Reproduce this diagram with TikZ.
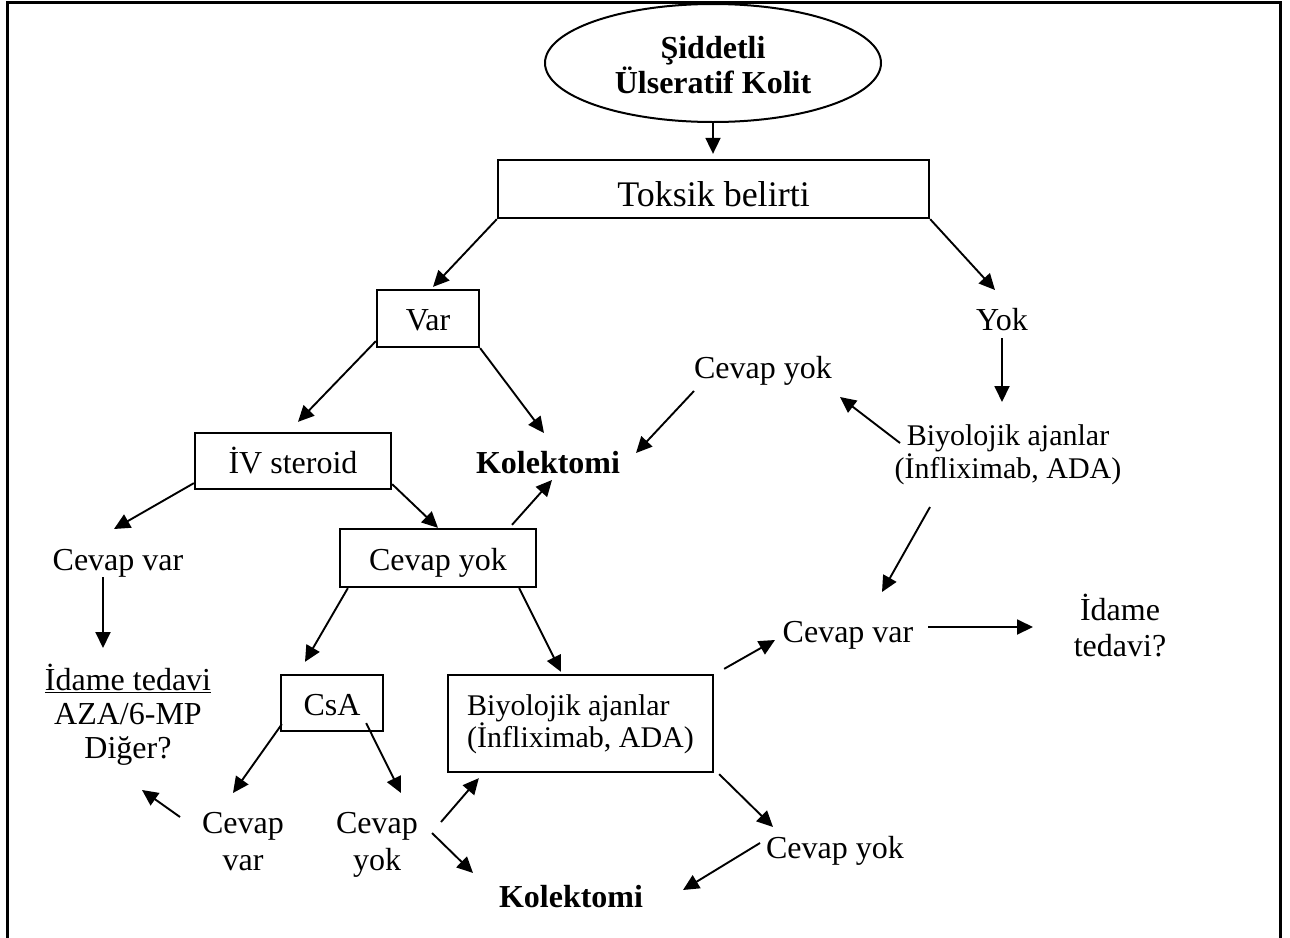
\documentclass[tikz,border=0pt]{standalone}
\usepackage{fontspec}
\setmainfont{Liberation Serif}
\usetikzlibrary{arrows.meta,shapes.geometric,calc}
\newcommand\stackC[1]{\vtop{\lineskiplimit=-100pt\lineskip=0pt\halign{\hfil##\hfil\cr#1\crcr}}}
\newcommand\stackL[1]{\vtop{\lineskiplimit=-100pt\lineskip=0pt\halign{##\hfil\cr#1\crcr}}}
\begin{document}
\begin{tikzpicture}[x=1pt,y=-1pt,
  conn/.style={line width=1.9pt,-{Triangle[length=16pt,width=15pt]}},
  boxnode/.style={draw,line width=2.3pt,inner sep=0pt,text height=24pt,text depth=0pt,
     font=\fontsize{32}{35}\selectfont},
  txt/.style={inner sep=0pt,anchor=base,font=\fontsize{32}{35}\selectfont},
]
\useasboundingbox (0,0) rectangle (1290,937);
\draw[line width=3pt] (7.5,950) -- (7.5,2) -- (1280.5,2) -- (1280.5,950);

% boxes
\node[ellipse,draw,line width=2pt,minimum width=336pt,minimum height=118pt,inner sep=0pt,
  text height=25pt,text depth=35pt,font=\fontsize{32}{35}\selectfont\bfseries] (ell) at (713,63)
  {\stackC{Şiddetli\cr Ülseratif Kolit}};
\node[boxnode,minimum width=431pt,minimum height=58pt,text height=34pt,
  font=\fontsize{36}{40}\selectfont] (tok) at (713.5,189) {Toksik belirti};
\node[boxnode,minimum width=102pt,minimum height=57pt] (var) at (428,318.5) {Var};
\node[boxnode,minimum width=196pt,minimum height=56pt] (iv) at (293,461) {İV steroid};
\node[boxnode,minimum width=196pt,minimum height=58pt] (cyB) at (438,558) {Cevap yok};
\node[boxnode,minimum width=102pt,minimum height=56pt] (csa) at (332,703) {CsA};
\node[boxnode,minimum width=265pt,minimum height=97pt,text height=20pt,text depth=37pt,
  font=\fontsize{30}{32}\selectfont] (bioB) at (580.5,723.5)
  {\stackL{Biyolojik ajanlar\cr (İnfliximab, ADA)}};

% free texts
\node[txt] (yok) at (1002,330) {Yok};
\node[txt,font=\fontsize{30}{33}\selectfont] (bioR) at (1008,445)
  {\stackC{Biyolojik ajanlar\cr (İnfliximab, ADA)}};
\node[txt] (cyU) at (763,378) {Cevap yok};
\node[txt,font=\fontsize{32}{35}\selectfont\bfseries] (kol1) at (548,473) {Kolektomi};
\node[txt] (cvL) at (118,570) {Cevap var};
\node[txt,font=\fontsize{32}{34}\selectfont] (idL) at (128,690)
  {\stackC{\underline{İdame tedavi}\cr AZA/6-MP\cr Diğer?}};
\node[txt] (cvM) at (848,642) {Cevap var};
\node[txt,font=\fontsize{32}{36}\selectfont] (idR) at (1120,620) {\stackC{İdame\cr tedavi?}};
\node[txt,font=\fontsize{32}{37}\selectfont] (cvB) at (243,833) {\stackC{Cevap\cr var}};
\node[txt,font=\fontsize{32}{37}\selectfont] (cyB2) at (377,833) {\stackC{Cevap\cr yok}};
\node[txt,font=\fontsize{32}{35}\selectfont\bfseries] (kol2) at (571,907) {Kolektomi};
\node[txt] (cyR) at (835,858) {Cevap yok};

% connectors
\draw[conn] (ell.south) -- ($(tok.north)+(-0.5,-5)$);
\draw[conn] (tok.south west) -- ($(var.north)+(5,-2)$);
\draw[conn] (tok.south east) -- ($(yok.base)+(-7,-40)$);
\draw[conn] ($(yok.base)+(0,8)$) -- ($(bioR.base)+(-6,-43)$);
\draw[conn] ($(bioR.base)+(-108,-2)$) -- ($(cyU.base)+(77,19)$);
\draw[conn] ($(cyU.base)+(-69,13)$) -- ($(kol1.base)+(88,-20)$);
\draw[conn] ($(var.south west)+(0,-7)$) -- ($(iv.north)+(5,-10)$);
\draw[conn] (var.south east) -- ($(kol1.base)+(-4,-40)$);
\draw[conn] ($(cyB.north)+(74,-3)$) -- ($(kol1.base)+(4,7)$);
\draw[conn] ($(iv.south east)+(0,-6)$) -- (cyB.north);
\draw[conn] ($(iv.south west)+(0,-7)$) -- ($(cvL.base)+(-4,-41)$);
\draw[conn] ($(cvL.base)+(-15,7)$) -- ($(idL.base)+(-25,-42)$);
\draw[conn] ($(cyB.south west)+(9,0)$) -- ($(csa.north)+(-27,-12)$);
\draw[conn] ($(cyB.south east)+(-18,0)$) -- ($(bioB.north)+(-19.5,-2)$);
\draw[conn] ($(csa.south west)+(2,-8)$) -- ($(cvB.base)+(-10,-40)$);
\draw[conn] ($(csa.south east)+(-18,-9)$) -- ($(cyB2.base)+(24,-40)$);
\draw[conn] ($(cvB.base)+(-63,-16)$) -- ($(idL.base)+(14,100)$);
\draw[conn] ($(cyB2.base)+(64,-11)$) -- ($(bioB.south west)+(32,5)$);
\draw[conn] ($(cyB2.base)+(55,0)$) -- ($(kol2.base)+(-98,-34)$);
\draw[conn] ($(bioB.north east)+(10,-5)$) -- ($(cvM.base)+(-73,-2)$);
\draw[conn] ($(cvM.base)+(80,-15)$) -- ($(idR.base)+(-87,7)$);
\draw[conn] ($(bioR.base)+(-78,62)$) -- ($(cvM.base)+(34,-50)$);
\draw[conn] ($(bioB.south east)+(5,1)$) -- ($(cyR.base)+(-62,-31)$);
\draw[conn] ($(cyR.base)+(-75,-15)$) -- ($(kol2.base)+(112,-17)$);
\end{tikzpicture}
\end{document}
